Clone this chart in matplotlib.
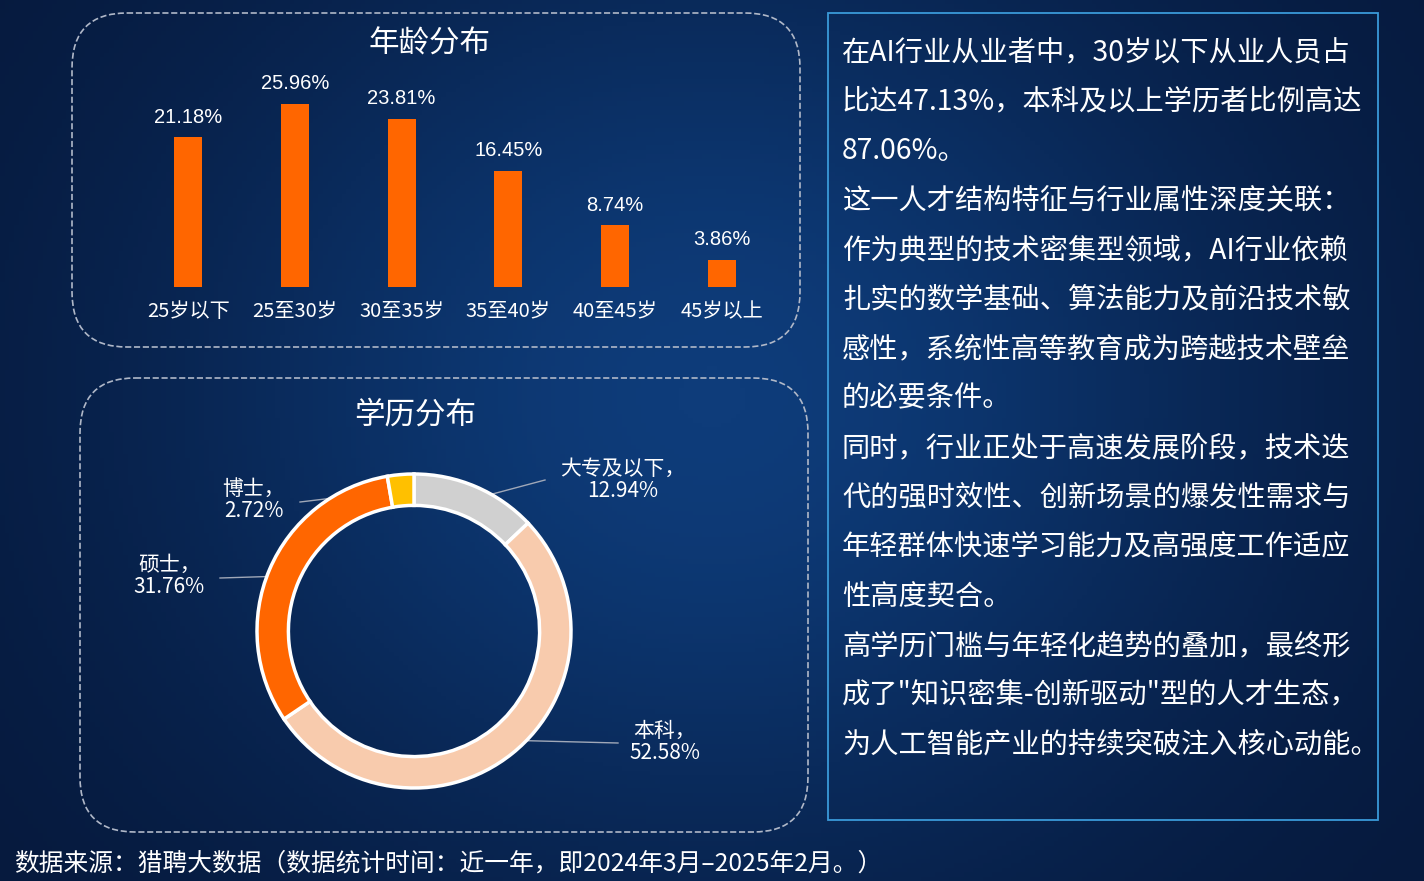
import matplotlib
matplotlib.use("Agg")
import matplotlib.pyplot as plt
import numpy as np
from matplotlib.patches import FancyBboxPatch, Rectangle
from matplotlib.colors import LinearSegmentedColormap

plt.rcParams['font.family'] = ['Noto Sans CJK SC', 'DejaVu Sans']

age_labels = ['25岁以下', '25至30岁', '30至35岁', '35至40岁', '40至45岁', '45岁以上']
age_values = [21.18, 25.96, 23.81, 16.45, 8.74, 3.86]
edu_labels = ['大专及以下', '本科', '硕士', '博士']
edu_values = [12.94, 52.58, 31.76, 2.72]
edu_colors = ['#d0d0d0', '#f8cbad', '#ff6600', '#ffc000']
text_lines = [
    "在AI行业从业者中，30岁以下从业人员占",
    "比达47.13%，本科及以上学历者比例高达",
    "87.06%。",
    "这一人才结构特征与行业属性深度关联：",
    "作为典型的技术密集型领域，AI行业依赖",
    "扎实的数学基础、算法能力及前沿技术敏",
    "感性，系统性高等教育成为跨越技术壁垒",
    "的必要条件。",
    "同时，行业正处于高速发展阶段，技术迭",
    "代的强时效性、创新场景的爆发性需求与",
    "年轻群体快速学习能力及高强度工作适应",
    "性高度契合。",
    "高学历门槛与年轻化趋势的叠加，最终形",
    "成了\"知识密集-创新驱动\"型的人才生态，",
    "为人工智能产业的持续突破注入核心动能。",
]
footer = "数据来源：猎聘大数据（数据统计时间：近一年，即2024年3月–2025年2月。）"

W, H = 1424, 881
fig = plt.figure(figsize=(W/100, H/100), dpi=100)
bg = fig.add_axes([0, 0, 1, 1])
bg.set_xlim(0, W); bg.set_ylim(H, 0); bg.axis('off')
yy, xx = np.mgrid[0:1:200j, 0:1:300j]
grad = np.exp(-((xx-0.5)**2/0.15 + (yy-0.45)**2/0.3))
cmap = LinearSegmentedColormap.from_list('b', ['#061a3e', '#0e3c7a'])
bg.imshow(grad, extent=[0, W, H, 0], cmap=cmap, aspect='auto', zorder=0)

for (x0, y0, x1, y1) in [(72, 13, 800, 347), (80, 378, 808, 832)]:
    bg.add_patch(FancyBboxPatch((x0, y0), x1-x0, y1-y0, boxstyle="round,pad=0,rounding_size=55",
                                fill=False, ec='#b0b8c8', ls='--', lw=1.2, zorder=1))
bg.add_patch(Rectangle((828, 13), 550, 807, fill=False, ec='#3a9ad9', lw=1.3, zorder=1))
bg.text(430, 44, '年龄分布', color='white', fontsize=22, ha='center', va='center')
bg.text(415, 415, '学历分布', color='white', fontsize=22, ha='center', va='center')
for i, line in enumerate(text_lines):
    bg.text(842, 52 + i*49.5, line, color='white', fontsize=20.3, ha='left', va='center')
bg.text(14, 864, footer, color='white', fontsize=17.8, ha='left', va='center')

# bars
ax = fig.add_axes([135/W, (H-287)/H, 640/W, 212/H])
x = np.arange(len(age_values))
ax.bar(x, age_values, width=0.26, color='#ff6600')
ax.set_xlim(-0.5, 5.5); ax.set_ylim(0, 30)
for xi, v in zip(x, age_values):
    ax.text(xi, v + 1.5, f'{v:.2f}%', color='white', fontsize=14.5, ha='center', va='bottom',
            family=['Liberation Sans', 'DejaVu Sans'])
ax.set_xticks(x); ax.set_xticklabels(age_labels, color='white', fontsize=14.5)
ax.tick_params(length=0, pad=10)
for s in ax.spines.values(): s.set_visible(False)
ax.set_yticks([]); ax.patch.set_alpha(0)

# donut
r = 157
pax = fig.add_axes([(414-r)/W, (H-631-r)/H, 2*r/W, 2*r/H])
pax.pie(edu_values, colors=edu_colors, startangle=90, counterclock=False, radius=1,
        wedgeprops=dict(width=0.2, edgecolor='white', linewidth=2.5))
pax.set_xlim(-1, 1); pax.set_ylim(-1, 1); pax.set_aspect('auto')
label_pos = [((560, 480), (470, 500), 'left'), ((700, 742), (500, 740), 'right'),
             ((205, 576), (285, 576), 'right'), ((285, 500), (400, 490), 'right')]
line_start = [(545, 480), (618, 743), (220, 578), (300, 502)]
for (tp, lp, ha), ls_, lab, v in zip(label_pos, line_start, edu_labels, edu_values):
    bg.plot([ls_[0], lp[0]], [ls_[1], lp[1]], color='#a0a8b8', lw=1, zorder=5)
    bg.text(tp[0], tp[1], f'{lab}，\n{v:.2f}%', color='white', fontsize=15, ha=ha, va='center',
            multialignment='center', linespacing=1.0, zorder=6)

fig.savefig('out.png', dpi=100)
